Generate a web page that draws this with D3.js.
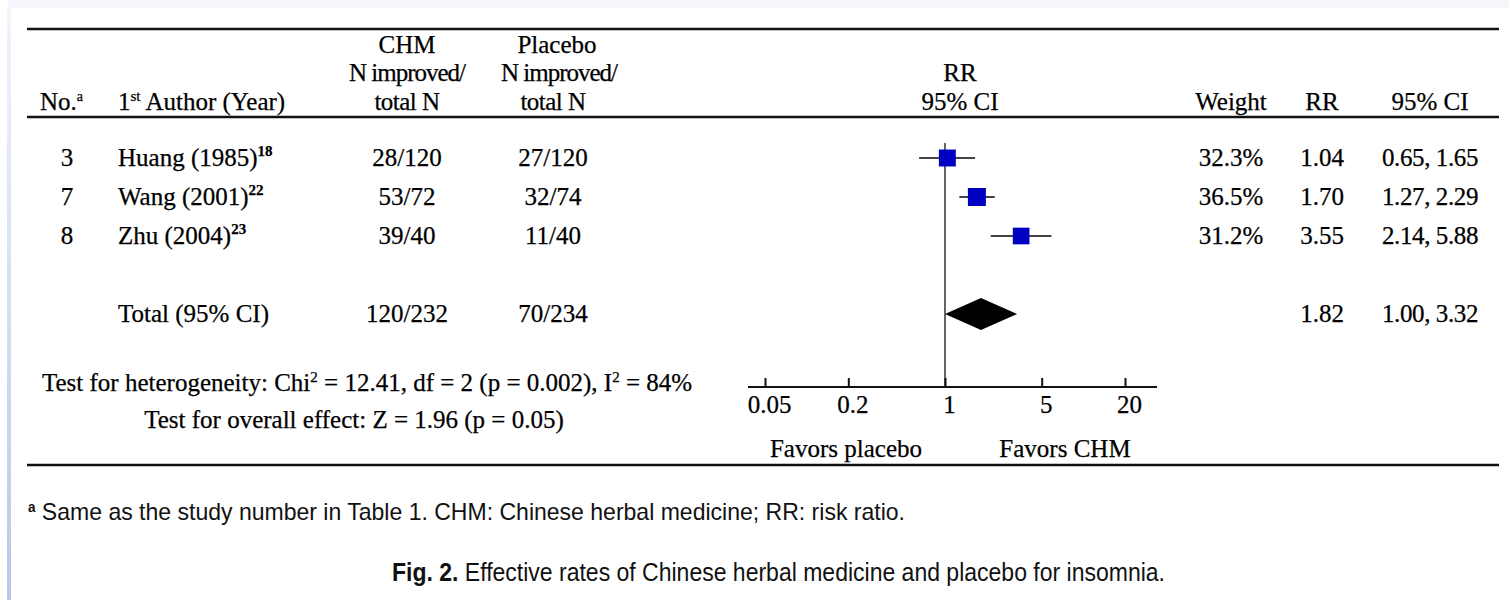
<!DOCTYPE html>
<html>
<head>
<meta charset="utf-8">
<script src="https://cdn.jsdelivr.net/npm/d3@7/dist/d3.min.js"></script>
<style>
  html, body { margin: 0; padding: 0; background: #fff; }
  svg { display: block; }
  .serif { font-family: "Liberation Serif", "Times New Roman", serif; font-size: 25px; fill: #000; stroke: #000; stroke-width: 0.25px; }
  .sans { font-family: "Liberation Sans", Arial, sans-serif; fill: #111; }
</style>
</head>
<body>
<svg id="fig" width="1509" height="600"></svg>
<script>
// study rows
const studyNo = ["3", "7", "8"];
const studyAuthor = ["Huang (1985)", "Wang (2001)", "Zhu (2004)"];
const studyRef = ["18", "22", "23"];
const chmImproved = [28, 53, 39];
const chmTotal = [120, 72, 40];
const placeboImproved = [27, 32, 11];
const placeboTotal = [120, 74, 40];
const weights = [32.3, 36.5, 31.2];
const rr = [1.04, 1.70, 3.55];
const ciLow = [0.65, 1.27, 2.14];
const ciHigh = [1.65, 2.29, 5.88];

// pooled
const totalChm = [120, 232];
const totalPlacebo = [70, 234];
const totalRR = 1.82;
const totalCI = [1.00, 3.32];

// axis
const axisTicks = [0.05, 0.2, 1, 5, 20];

const svg = d3.select("#fig");
const W = 1509;

// page frame (top strip + left blue edge)
const defs = svg.append("defs");
const grad = defs.append("linearGradient").attr("id", "edge")
    .attr("x1", 0).attr("y1", 0).attr("x2", 0).attr("y2", 1);
grad.append("stop").attr("offset", "0%").attr("stop-color", "#f1f4fb");
grad.append("stop").attr("offset", "100%").attr("stop-color", "#b6c9e8");
svg.append("rect").attr("x", 8).attr("y", 0).attr("width", W - 8).attr("height", 8).attr("fill", "#f4f6fc");
svg.append("rect").attr("x", 7).attr("y", 8).attr("width", 4).attr("height", 592).attr("fill", "url(#edge)");

// rules
function rule(y1, w) {
    svg.append("line").attr("x1", 27).attr("x2", 1499).attr("y1", y1).attr("y2", y1)
        .attr("stroke", "#111").attr("stroke-width", w);
}
rule(29, 2.5);
rule(117, 2.5);
rule(465, 2.5);

function txt(x, y, s, anchor, cls) {
    return svg.append("text").attr("class", cls || "serif").attr("x", x).attr("y", y)
        .attr("text-anchor", anchor || "start").text(s);
}
function sup(t, s, size) {
    t.append("tspan").attr("dy", -9).attr("font-size", size || 15).text(s);
}

// column positions
const col = { no: 67, author: 118, chm: 407, placebo: 553, weight: 1231, rr: 1322, ci: 1430, plot: 960 };

// header
txt(col.chm, 53, "CHM", "middle");
txt(col.chm, 81, "N improved/", "middle").attr("letter-spacing", -1);
txt(col.chm, 110, "total N", "middle").attr("letter-spacing", -0.5);
txt(col.placebo + 4, 53, "Placebo", "middle");
txt(col.placebo + 6, 81, "N improved/", "middle").attr("letter-spacing", -1);
txt(col.placebo, 110, "total N", "middle").attr("letter-spacing", -0.5);
let h = txt(40, 110, "No.");
sup(h, "a", 14);
h = txt(col.author, 110, "1");
sup(h, "st", 15);
h.append("tspan").attr("dy", 9).text(" Author (Year)");
txt(col.plot, 81, "RR", "middle");
txt(col.plot, 110, "95% CI", "middle");
txt(col.weight, 110, "Weight", "middle");
txt(col.rr, 110, "RR", "middle");
txt(col.ci, 110, "95% CI", "middle");

// rows
const rowY = d3.scaleLinear().domain([0, 4]).range([158, 314]);
const x = d3.scaleLog().domain([0.05, 20]).range([765, 1125]);
const fmt2 = d3.format(".2f");
const sizeK = 2.98;
const off = 8;

studyNo.forEach(function(n, i) {
    const b = rowY(i) + off;
    txt(col.no, b, n, "middle");
    const a = txt(col.author, b, studyAuthor[i]);
    a.append("tspan").attr("dy", -10).attr("font-size", 15).attr("font-weight", "bold").text(studyRef[i]);
    txt(col.chm, b, chmImproved[i] + "/" + chmTotal[i], "middle");
    txt(col.placebo, b, placeboImproved[i] + "/" + placeboTotal[i], "middle");
    txt(col.weight, b, weights[i].toFixed(1) + "%", "middle");
    txt(col.rr, b, fmt2(rr[i]), "middle");
    txt(col.ci, b, fmt2(ciLow[i]) + ", " + fmt2(ciHigh[i]), "middle").attr("letter-spacing", -0.4);
});

// total row
const ty = rowY(4);
txt(col.author, ty + off, "Total (95% CI)");
txt(col.chm, ty + off, totalChm[0] + "/" + totalChm[1], "middle");
txt(col.placebo, ty + off, totalPlacebo[0] + "/" + totalPlacebo[1], "middle");
txt(col.rr, ty + off, fmt2(totalRR), "middle");
txt(col.ci, ty + off, fmt2(totalCI[0]) + ", " + fmt2(totalCI[1]), "middle").attr("letter-spacing", -0.4);

// forest plot
const axisY = 387;
const plot = svg.append("g");

plot.append("line")
    .attr("x1", x(1)).attr("x2", x(1)).attr("y1", 143).attr("y2", axisY)
    .attr("stroke", "#555").attr("stroke-width", 1.8);

plot.selectAll("line.ci").data(rr).enter().append("line")
    .attr("class", "ci")
    .attr("x1", (d, i) => x(ciLow[i])).attr("x2", (d, i) => x(ciHigh[i]))
    .attr("y1", (d, i) => rowY(i)).attr("y2", (d, i) => rowY(i))
    .attr("stroke", "#444").attr("stroke-width", 2.2);

plot.selectAll("rect.pt").data(rr).enter().append("rect")
    .attr("class", "pt")
    .attr("x", (d, i) => x(d) - sizeK * Math.sqrt(weights[i]) / 2)
    .attr("y", (d, i) => rowY(i) - sizeK * Math.sqrt(weights[i]) / 2)
    .attr("width", (d, i) => sizeK * Math.sqrt(weights[i]))
    .attr("height", (d, i) => sizeK * Math.sqrt(weights[i]))
    .attr("fill", "#0000c0");

const dh = 16;
plot.append("path")
    .attr("d", "M" + x(totalCI[0]) + "," + ty +
               "L" + x(totalRR) + "," + (ty - dh) +
               "L" + x(totalCI[1]) + "," + ty +
               "L" + x(totalRR) + "," + (ty + dh) + "Z")
    .attr("fill", "#000");

// axis
plot.append("line")
    .attr("x1", x(0.05) - 17).attr("x2", x(20) + 32).attr("y1", axisY).attr("y2", axisY)
    .attr("stroke", "#111").attr("stroke-width", 2.2);

const xAxis = d3.axisBottom(x).tickValues(axisTicks).tickFormat(d => String(d))
    .tickSize(-9).tickPadding(8);
const gX = plot.append("g").attr("transform", "translate(0," + axisY + ")").call(xAxis);
gX.select(".domain").remove();
gX.selectAll(".tick line").attr("stroke", "#111").attr("stroke-width", 2);
gX.selectAll(".tick text").attr("class", "serif").attr("fill", "#111").attr("x", 4);
gX.attr("font-family", null).attr("font-size", null);

txt(846, 457, "Favors placebo", "middle");
txt(1065, 457, "Favors CHM", "middle");

// test statistics
let t = txt(42, 391, "Test for heterogeneity: Chi");
sup(t, "2", 15);
t.append("tspan").attr("dy", 9).text(" = 12.41, df = 2 (p = 0.002), I");
sup(t, "2", 15);
t.append("tspan").attr("dy", 9).text(" = 84%");
txt(354, 428, "Test for overall effect: Z = 1.96 (p = 0.05)", "middle");

// footnote and caption
const fn = svg.append("text").attr("class", "sans").attr("x", 28).attr("y", 520).attr("font-size", 24)
    .attr("textLength", 877).attr("lengthAdjust", "spacingAndGlyphs");
fn.append("tspan").attr("font-size", 14).attr("font-weight", "bold").attr("dy", -8).text("a");
fn.append("tspan").attr("dy", 8).text(" Same as the study number in Table 1. CHM: Chinese herbal medicine; RR: risk ratio.");

const cap = svg.append("text").attr("class", "sans").attr("x", 392).attr("y", 581).attr("font-size", 25)
    .attr("textLength", 773).attr("lengthAdjust", "spacingAndGlyphs");
cap.append("tspan").attr("font-weight", "bold").text("Fig. 2.");
cap.append("tspan").text("  Effective rates of Chinese herbal medicine and placebo for insomnia.");
</script>
</body>
</html>
